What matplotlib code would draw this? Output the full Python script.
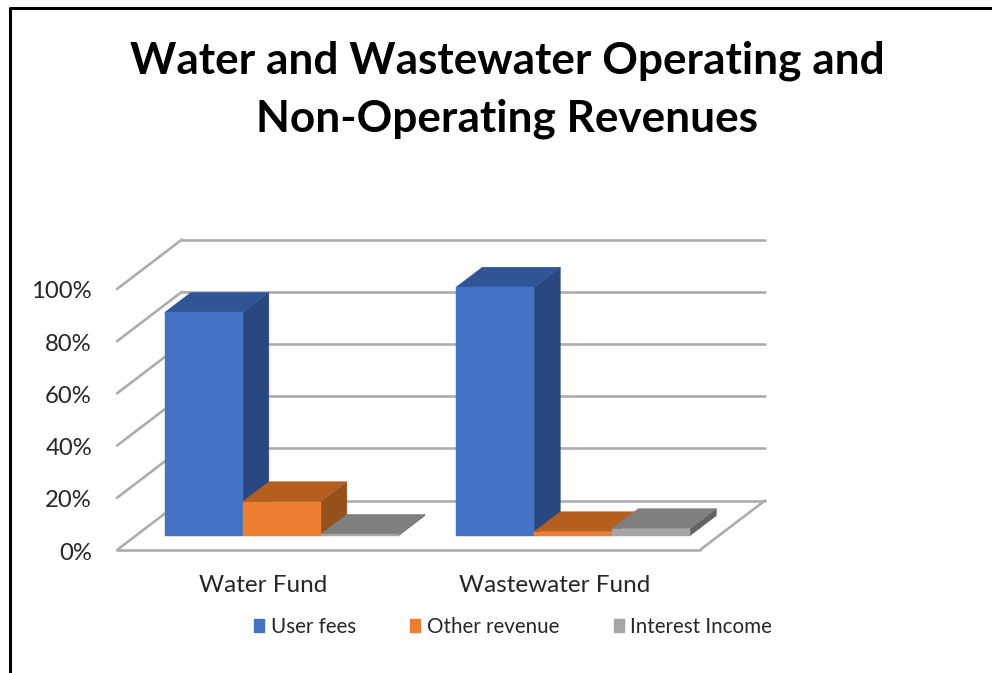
"""
Oblique 3D style column chart of water and wastewater revenues.
"""
import matplotlib
matplotlib.use("Agg")
import matplotlib.pyplot as plt
from matplotlib.patches import Patch

# Data
funds = ["Water Fund", "Wastewater Fund"]
series_names = ["User fees", "Other revenue", "Interest Income"]
user_fees = [85.5, 95.2]
other_revenue = [13.0, 1.5]
interest_income = [0.5, 2.7]
value_ticks = [0, 20, 40, 60, 80, 100]

# Face colours per series: front, top, side
front_colors = ["#4472C4", "#ED7D31", "#A5A5A5"]
top_colors = ["#2F5597", "#B45F20", "#7F7F7F"]
side_colors = ["#29487F", "#96501A", "#636363"]

GRID_COLOR = "#ADADAD"
TEXT_COLOR = "#262626"
FONT = "Lato"

# Projection of the chart space into pixels
ORIGIN_X, ORIGIN_Y = 117, 550
CATEGORY_PX = 291.5
VALUE_PX = 2.61
DEPTH_X, DEPTH_Y = 65, 49.5

BAR_WIDTH = 0.2676
BAR_DEPTH_START = 0.29
BAR_DEPTH_END = 0.694


def project(cat, value, depth):
    """Convert category position, percent value and depth to pixel coordinates."""
    x = ORIGIN_X + CATEGORY_PX * cat + DEPTH_X * depth
    y = ORIGIN_Y - VALUE_PX * value - DEPTH_Y * depth
    return x, y


def draw_line(ax, start, end, color=GRID_COLOR, lw=1.9):
    ax.plot([start[0], end[0]], [start[1], end[1]], color=color, lw=lw,
            solid_capstyle="round", zorder=1)


def draw_face(ax, corners, color):
    xs = [c[0] for c in corners]
    ys = [c[1] for c in corners]
    ax.fill(xs, ys, color=color, lw=0.3, zorder=2)


def draw_bar(ax, left, value, colors):
    """Draw one bar as three faces: side, top, then front."""
    right = left + BAR_WIDTH
    d0, d1 = BAR_DEPTH_START, BAR_DEPTH_END
    front, top, side = colors
    draw_face(ax, [project(right, 0, d0), project(right, 0, d1),
                   project(right, value, d1), project(right, value, d0)], side)
    draw_face(ax, [project(left, value, d0), project(right, value, d0),
                   project(right, value, d1), project(left, value, d1)], top)
    draw_face(ax, [project(left, 0, d0), project(right, 0, d0),
                   project(right, value, d0), project(left, value, d0)], front)


fig = plt.figure(figsize=(9.92, 6.73), dpi=100, facecolor="white")
ax = fig.add_axes([0, 0, 1, 1])
ax.set_xlim(0, 992)
ax.set_ylim(673, 0)
ax.axis("off")

# Outer frame, only the top and left edges are visible
ax.plot([10, 10, 992], [673, 8, 8], color="black", lw=2.2, zorder=5)

ax.text(507, 61, "Water and Wastewater Operating and", ha="center", va="center",
        fontsize=31.8, fontweight="bold", family=FONT, color="black")
ax.text(507, 119, "Non-Operating Revenues", ha="center", va="center",
        fontsize=31.8, fontweight="bold", family=FONT, color="black")

# Back wall and side wall gridlines
n_funds = len(funds)
for tick in value_ticks:
    draw_line(ax, project(0, tick, 0), project(0, tick, 1))
    draw_line(ax, project(0, tick, 1), project(n_funds, tick, 1))
    ax.text(92, project(0, tick, 0)[1] + 3, f"{tick}%", ha="right", va="center",
            fontsize=17.2, family=FONT, color=TEXT_COLOR)

# Floor outline
draw_line(ax, project(0, 0, 0), project(n_funds, 0, 0))
draw_line(ax, project(n_funds, 0, 0), project(n_funds, 0, 1))

# Bars, drawn left to right so later tops overlap earlier sides
all_series = [user_fees, other_revenue, interest_income]
gap = (1 - BAR_WIDTH * len(all_series)) / 2
for i, fund in enumerate(funds):
    for j, values in enumerate(all_series):
        left = i + gap + j * BAR_WIDTH
        draw_bar(ax, left, values[i], (front_colors[j], top_colors[j], side_colors[j]))
    ax.text(project(i + 0.5, 0, 0)[0], 586, fund, ha="center", va="center",
            fontsize=17.5, family=FONT, color=TEXT_COLOR)

handles = [Patch(color=c, label=name) for c, name in zip(front_colors, series_names)]
ax.legend(handles=handles, ncol=3, loc="center", bbox_to_anchor=(513 / 992, 1 - 627 / 673),
          frameon=False, handlelength=0.5, handleheight=0.6, handletextpad=0.3,
          columnspacing=2.65, labelcolor=TEXT_COLOR,
          prop={"family": FONT, "size": 14.8})

fig.savefig("out.png", dpi=100)
